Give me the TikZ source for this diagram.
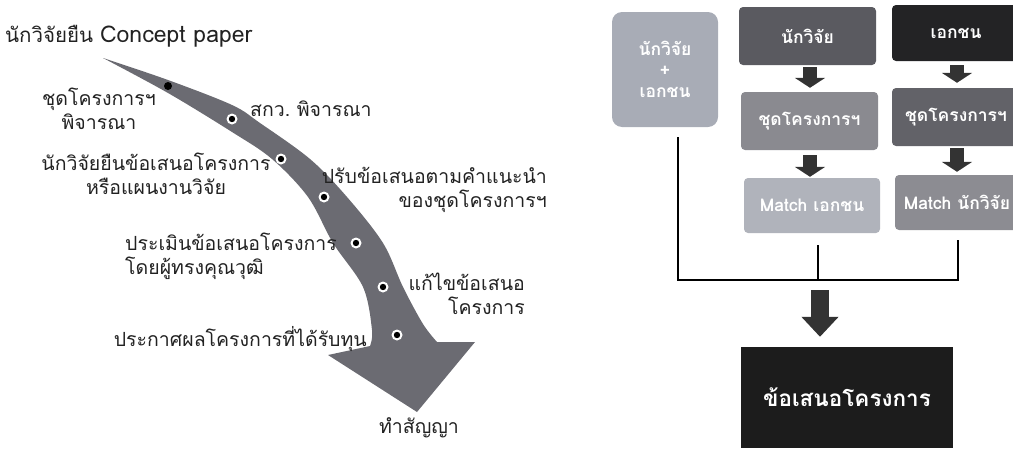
\documentclass[tikz,border=0pt]{standalone}
\usepackage{fontspec}
\setmainfont[Script=Thai]{Loma}
\usetikzlibrary{arrows.meta,calc}
\definecolor{bandgray}{HTML}{6B6B72}
\definecolor{txt}{HTML}{222222}
\definecolor{cA}{HTML}{A8ACB6}
\definecolor{cB}{HTML}{5A5A60}
\definecolor{cC}{HTML}{232325}
\definecolor{cD}{HTML}{8A8A90}
\definecolor{cE}{HTML}{626268}
\definecolor{cF}{HTML}{B0B3BB}
\definecolor{cG}{HTML}{8C8C92}
\definecolor{arr}{HTML}{333333}
\definecolor{cH}{HTML}{1C1C1C}
\frenchspacing
\begin{document}
\begin{tikzpicture}[x=1pt,y=-1pt,
  lbl/.style={font=\fontsize{19.5}{24}\selectfont, text=txt, inner sep=0pt},
  box/.style={inner sep=0pt, text=white, font=\bfseries\fontsize{17.5}{21}\selectfont, rounded corners=4pt, align=center},
  blockarrow/.style={draw=arr, line width=14pt, -{Triangle[width=30pt,length=10pt]}},
  bigarrow/.style={draw=arr, line width=18pt, -{Triangle[width=36pt,length=20pt]}},
  conn/.style={draw=black, line width=1.6pt},
  dot/.style={circle, fill=white, inner sep=0pt, minimum size=11pt}
]
\useasboundingbox (0,0) rectangle (1013,450);

% ---- curved arrow ----
\fill[bandgray] plot[smooth, tension=0.55] coordinates {(103,58) (168,80) (232,105) (260,123) (310,159) (347,197) (383,243) (403,287) (423,324) (437,342)}
  -- (475,342) -- (417,412) -- (328,355) -- (370,346)
  -- plot[smooth, tension=0.55] coordinates {(370,346) (372,330) (363,287) (333,243) (308,197) (272,159) (232,132) (168,93) (103,58)} -- cycle;

\foreach \p [count=\i] in {(232,119),(281,159),(324,197),(356,243),(383,287),(397,335)}{
  \node[dot] (d\i) at \p {};
  \fill[black] (d\i) circle (3.2pt);
}
\fill[black] (168,86) circle (4pt);

% ---- left labels ----
\node[lbl, anchor=west, font=\fontsize{20.5}{24}\selectfont] (l1) at (5,36) {นักวิจัยยืน {\fontsize{23}{24}\selectfont Concept paper}};
\node[lbl, align=center] (l2) at (99,109) {ชุดโครงการฯ\\พิจารณา};
\node[lbl, anchor=west] (l3) at (250,109) {สกว. พิจารณา};
\node[lbl, align=center] (l4) at (156,174) {นักวิจัยยืนข้อเสนอโครงการ\\หรือแผนงานวิจัย};
\node[lbl, align=right, anchor=east] (l5) at (547,190) {ปรับข้อเสนอตามคำแนะนำ\\ของชุดโครงการฯ};
\node[lbl, align=left, anchor=west] (l6) at (125,256) {ประเมินข้อเสนอโครงการ\\โดยผู้ทรงคุณวุฒิ};
\node[lbl, align=right, anchor=east] (l7) at (525,294) {แก้ไขข้อเสนอ\\โครงการ};
\node[lbl, anchor=east] (l8) at (367,339) {ประกาศผลโครงการที่ได้รับทุน};
\node[lbl] (l9) at (419,428) {ทำสัญญา};

% ---- right diagram ----
\node[box, fill=cA, minimum width=106pt, minimum height=115pt, rounded corners=10pt] (b0) at (665,69.5) {นักวิจัย\\+\\เอกชน};
\node[box, fill=cB, minimum width=137pt, minimum height=58pt] (b1) at (807.5,36) {นักวิจัย};
\node[box, fill=cC, minimum width=128pt, minimum height=56pt] (b2) at (956,33) {เอกชน};
\node[box, fill=cD, minimum width=137pt, minimum height=58pt] (b3) at (809.5,121) {ชุดโครงการฯ};
\node[box, fill=cE, minimum width=128pt, minimum height=58pt] (b4) at (956,117) {ชุดโครงการฯ};
\node[box, fill=cF, minimum width=136pt, minimum height=55pt] (b5) at (812,205.5) {Match เอกชน};
\node[box, fill=cG, minimum width=124pt, minimum height=55pt] (b6) at (957,202.5) {Match นักวิจัย};
\node[inner sep=0pt, fill=cH, minimum width=212pt, minimum height=101pt, text=white, font=\bfseries\fontsize{22.5}{26}\selectfont] (b7) at (847,397.5) {ข้อเสนอโครงการ};

\draw[blockarrow, shorten <=2pt, shorten >=4pt] ([xshift=2.5pt]b1.south) -- ([xshift=0.5pt]b3.north);
\draw[blockarrow, shorten <=5pt, shorten >=1pt] ([xshift=0.5pt]b3.south) -- ([xshift=-2pt]b5.north);
\draw[blockarrow, shorten <=4pt, shorten >=5pt] ([xshift=1pt]b2.south) -- ([xshift=1pt]b4.north);
\draw[blockarrow, shorten <=2pt, shorten >=3pt] ([xshift=1pt]b4.south) -- ([xshift=0pt]b6.north);

\coordinate (hub) at (820,280);
\coordinate (jr) at (958,280);
\draw[conn] ([xshift=13pt,yshift=-10pt]b0.south) |- (jr) -- ([yshift=-10pt]b6.south -| jr);
\draw[conn] ([xshift=6pt,yshift=-12pt]b5.south) -- ([xshift=6pt]b5.south |- hub);
\draw[bigarrow, shorten <=10pt, shorten >=10pt] (hub) -- (b7.north -| hub);
\end{tikzpicture}
\end{document}
